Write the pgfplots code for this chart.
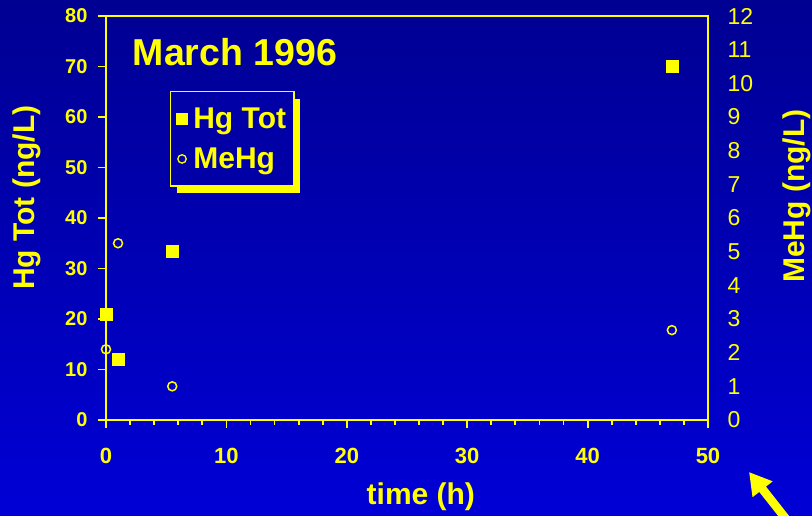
\documentclass[border=0pt]{standalone}
\usepackage{fontspec}
\setmainfont{Liberation Sans}
\usepackage{pgfplots}
\pgfplotsset{compat=1.18}
\usetikzlibrary{shadows,arrows.meta}
\definecolor{ylw}{HTML}{FFFF00}
\definecolor{bgtop}{HTML}{000092}
\definecolor{bgbot}{HTML}{0000D6}
\definecolor{legfill}{HTML}{0000A6}
\begin{document}
\begin{tikzpicture}[x=1pt,y=1pt]
\shade[top color=bgtop,bottom color=bgbot] (0,0) rectangle (812,515);
\begin{axis}[
  at={(106pt,95pt)}, anchor=south west, scale only axis, width=602pt, height=404pt,
  xmin=0, xmax=50, ymin=0, ymax=80,
  xtick={0,10,...,50}, ytick={0,10,...,80},
  minor x tick num=4,
  tick align=outside, xtick pos=left, ytick pos=left,
  major tick length=8pt, minor tick length=4.5pt,
  axis line style={ylw, line width=2pt},
  tick style={ylw, line width=1.8pt},
  /pgf/number format/assume math mode=true,
  xticklabel style={font=\bfseries\fontsize{22}{22}\selectfont, text=ylw, yshift=-17pt},
  yticklabel style={font=\bfseries\fontsize{20}{20}\selectfont, text=ylw, xshift=-7pt},
  xlabel={time (h)},
  xlabel style={at={(axis description cs:0.523,-0.19)}, anchor=center, font=\bfseries\fontsize{30}{30}\selectfont, text=ylw},
  ylabel={Hg Tot (ng/L)},
  ylabel style={at={(axis description cs:-0.131,0.55)}, anchor=center, rotate=0, font=\bfseries\fontsize{30}{30}\selectfont, text=ylw},
  clip=false,
]
\addplot[only marks, mark=square*, mark size=6pt, draw=ylw, fill=ylw] coordinates {(0,21) (1,12) (5.5,33.5) (47,70)};
\node[font=\bfseries\fontsize{37.5}{37.5}\selectfont, text=ylw] at (axis description cs:0.2143,0.911) {March 1996};
\end{axis}
\begin{axis}[
  at={(106pt,95pt)}, anchor=south west, scale only axis, width=602pt, height=404pt,
  xmin=0, xmax=50, ymin=0, ymax=12,
  hide x axis, axis y line*=right,
  ytick={0,1,...,12},
  ytick style={draw=none},
  axis line style={ylw, line width=2pt},
  /pgf/number format/assume math mode=true,
  yticklabel style={font=\fontsize{23}{23}\selectfont, text=ylw, xshift=16pt},
  ylabel={MeHg (ng/L)},
  ylabel style={at={(axis description cs:1.148,0.554)}, anchor=center, rotate=0, font=\bfseries\fontsize{30}{30}\selectfont, text=ylw},
  clip=false,
  legend style={
    at={(axis description cs:0.1063,0.8144)}, anchor=north west,
    draw=ylw, line width=1.5pt, fill=legfill,
    font=\bfseries\fontsize{30}{30}\selectfont, text=ylw,
    inner xsep=6pt, inner ysep=14pt, row sep=14pt, column sep=4pt,
    nodes={inner sep=2pt},
    drop shadow={shadow xshift=6pt, shadow yshift=-7pt, fill=ylw, opacity=1},
  },
  legend cell align=left,
  legend image code/.code={\draw[#1] plot coordinates {(0pt,0pt)};},
]
\addlegendimage{only marks, mark=square*, mark size=5.3pt, draw=ylw, fill=ylw}
\addlegendentry{Hg Tot}
\addlegendimage{only marks, mark=o, mark size=4.2pt, line width=1.3pt, draw=ylw}
\addlegendentry{MeHg}
\addplot[forget plot, only marks, mark=o, mark size=4.5pt, line width=1.5pt, draw=ylw] coordinates {(0,2.1) (1,5.25) (5.5,1.0) (47,2.67)};
\end{axis}
\draw[ylw, line width=8.6pt, -{Triangle[width=24pt,length=22pt]}] (790,-9) -- (749,43);
\pgfresetboundingbox
\useasboundingbox (0,0) rectangle (812,515);
\end{tikzpicture}
\end{document}
